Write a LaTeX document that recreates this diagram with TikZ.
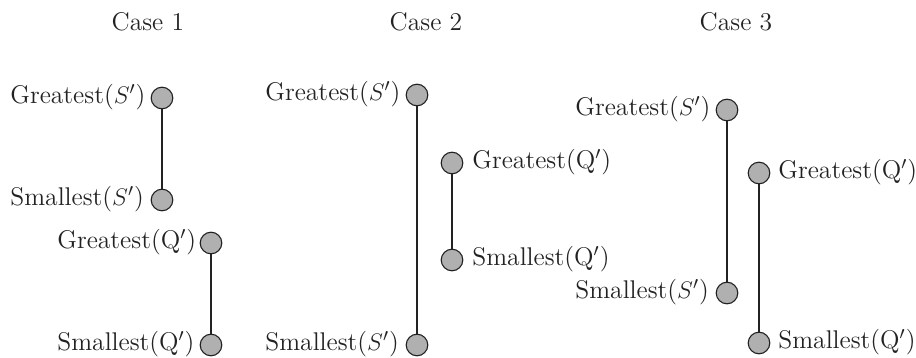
\documentclass[tikz,border=0pt]{standalone}
\usepackage{xcolor}
\definecolor{dotgray}{HTML}{B0B0B0}
\definecolor{inkgray}{HTML}{222222}
\begin{document}
\begin{tikzpicture}[x=0.5pt,y=-0.5pt,
  dot/.style={circle,draw=inkgray,fill=dotgray,line width=0.55pt,minimum size=10.8pt,inner sep=0pt},
  lab/.style={font=\fontsize{12.8}{15}\selectfont,inner sep=0pt,text=inkgray},
  conn/.style={line width=0.55pt,draw=inkgray},
  ttl/.style={font=\fontsize{12.8}{15}\selectfont,text=inkgray}]
\useasboundingbox (0,0) rectangle (916,358);
% titles
\node[ttl] (t1) at (148,22) {Case 1};
\node[ttl] (t2) at (426,22) {Case 2};
\node[ttl] (t3) at (736,22) {Case 3};
% Case 1
\node[dot] (a1) at (162,98) {};
\node[dot] (a2) at (162,200) {};
\node[dot] (a3) at (211,243) {};
\node[dot] (a4) at (211,345) {};
\draw[conn] (a1) -- (a2);
\draw[conn] (a3) -- (a4);
\node[lab,anchor=west] (la1) at (10,97) {Greatest($S'$)};
\node[lab,anchor=west] (la2) at (10,199) {Smallest($S'$)};
\node[lab,anchor=west] (la3) at (57,242) {Greatest(Q$'$)};
\node[lab,anchor=west] (la4) at (57,344) {Smallest(Q$'$)};
% Case 2
\node[dot] (b1) at (417,95) {};
\node[dot] (b2) at (417,345) {};
\node[dot] (b3) at (452,163) {};
\node[dot] (b4) at (452,260) {};
\draw[conn] (b1) -- (b2);
\draw[conn] (b3) -- (b4);
\node[lab,anchor=west] (lb1) at (265,94) {Greatest($S'$)};
\node[lab,anchor=west] (lb2) at (265,344) {Smallest($S'$)};
\node[lab,anchor=west] (lb3) at (472,162) {Greatest(Q$'$)};
\node[lab,anchor=west] (lb4) at (472,259) {Smallest(Q$'$)};
% Case 3
\node[dot] (c1) at (727,110) {};
\node[dot] (c2) at (727,293) {};
\node[dot] (c3) at (759,173) {};
\node[dot] (c4) at (759,343) {};
\draw[conn] (c1) -- (c2);
\draw[conn] (c3) -- (c4);
\node[lab,anchor=west] (lc1) at (575,109) {Greatest($S'$)};
\node[lab,anchor=west] (lc2) at (575,292) {Smallest($S'$)};
\node[lab,anchor=west] (lc3) at (778,172) {Greatest(Q$'$)};
\node[lab,anchor=west] (lc4) at (778,342) {Smallest(Q$'$)};
\end{tikzpicture}
\end{document}
